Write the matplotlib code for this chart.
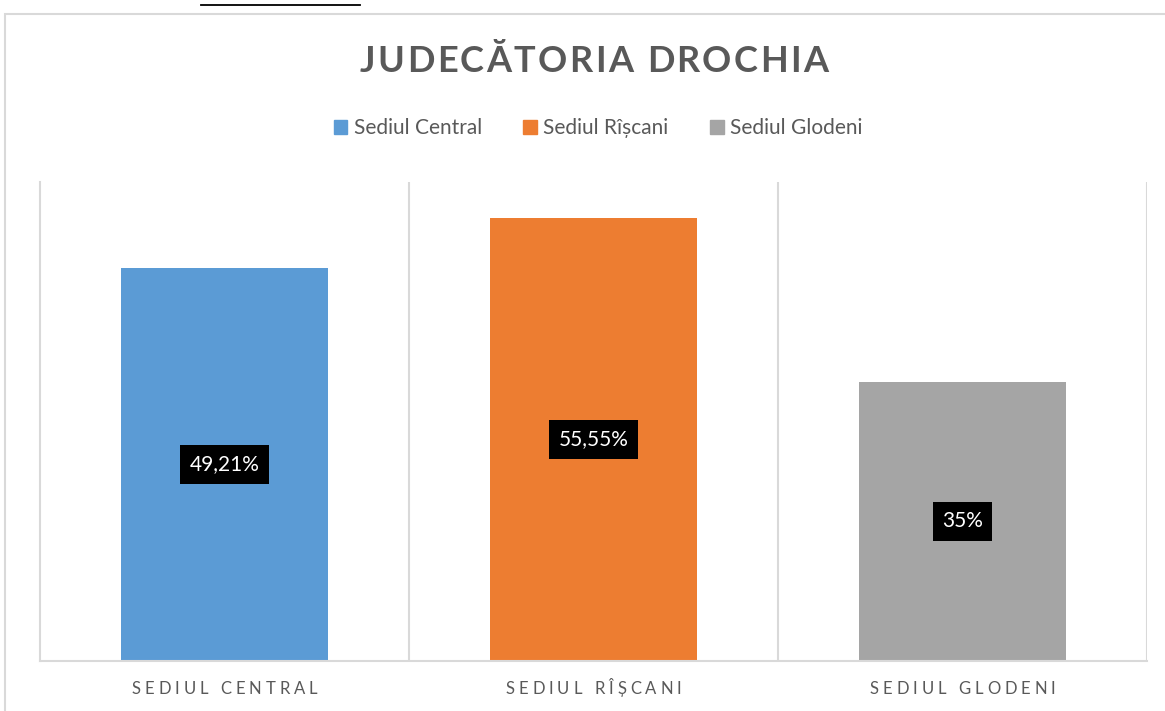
import matplotlib
matplotlib.use('Agg')
import matplotlib.pyplot as plt
from matplotlib.patches import Rectangle
from matplotlib.lines import Line2D

# date
categorii = ['Sediul Central', 'Sediul Rîșcani', 'Sediul Glodeni']
valori = [49.21, 55.55, 35]
etichete = ['49,21%', '55,55%', '35%']
culori = ['#5b9bd5', '#ed7d31', '#a5a5a5']
titlu = 'JUDECĂTORIA DROCHIA'

W, H = 1165, 711
fig = plt.figure(figsize=(W / 100, H / 100), dpi=100)
plt.rcParams['font.family'] = ['Lato', 'DejaVu Sans']
gri = '#595959'


def fx(px):
    return px / W


def fy(py):
    return 1 - py / H


def text_spatiat(x, y, s, spatiu, **kw):
    # text cu spatiere intre litere, centrat in x (pixeli)
    r = fig.canvas.get_renderer()
    latimi = []
    for ch in s:
        t = fig.text(0, 0, ch, **kw)
        latimi.append(t.get_window_extent(r).width if ch != ' ' else None)
        t.remove()
    sp = fig.text(0, 0, 'a a', **kw)
    w2 = sp.get_window_extent(r).width
    sp.remove()
    sp = fig.text(0, 0, 'aa', **kw)
    w1 = sp.get_window_extent(r).width
    sp.remove()
    latimi = [w if w is not None else (w2 - w1) for w in latimi]
    total = sum(latimi) + spatiu * (len(s) - 1)
    cx = x - total / 2
    for ch, w in zip(s, latimi):
        fig.text(fx(cx), fy(y), ch, ha='left', va='center', **kw)
        cx += w + spatiu


# chenarul graficului
fig.add_artist(Rectangle((fx(5), fy(720)), fx(1175), fy(14) - fy(720),
                         transform=fig.transFigure, fill=False,
                         edgecolor='#d9d9d9', linewidth=1.5))
# linia de sus (din document)
fig.add_artist(Line2D([fx(201), fx(360)], [fy(4.5), fy(4.5)],
                      transform=fig.transFigure, color='black', linewidth=1.3))

ax = fig.add_axes([fx(40), fy(661), fx(1147 - 40), fy(182) - fy(661)])
x = range(len(categorii))
bare = ax.bar(x, valori, width=0.56, color=culori)
ax.set_xlim(-0.5, 2.5)
ax.set_ylim(0, 60)
ax.set_yticks([])
ax.set_xticks([])
for s in ['top', 'right']:
    ax.spines[s].set_visible(False)
ax.spines['left'].set_color('#d9d9d9')
ax.spines['bottom'].set_color('#d9d9d9')
ax.spines['left'].set_linewidth(1.5)
ax.spines['bottom'].set_linewidth(1.5)
for xv in [0.5, 1.5, 2.5]:
    ax.axvline(xv, color='#d9d9d9', linewidth=1.5)

for i, (v, et) in enumerate(zip(valori, etichete)):
    ax.text(i, v / 2, et, ha='center', va='center', color='white', fontsize=15,
            bbox=dict(boxstyle='square,pad=0.45', facecolor='black', edgecolor='none'))

# titlu
text_spatiat(594, 62, titlu, 2.4, fontsize=26, fontweight='bold', color=gri)

# legenda
handles = [Rectangle((0, 0), 1, 1, color=c) for c in culori]
fig.legend(handles, categorii, loc='center', bbox_to_anchor=(fx(598), fy(128)),
           ncol=3, frameon=False, fontsize=15, handlelength=0.65, handleheight=0.65,
           handletextpad=0.3, columnspacing=2.0, labelcolor=gri)

# etichete axa x
for i, c in enumerate(categorii):
    px = 40 + (i + 0.5) * (1147 - 40) / 3
    text_spatiat(px, 689, c.upper(), 4.0, fontsize=12, color=gri)

fig.savefig('out.png', dpi=100)
